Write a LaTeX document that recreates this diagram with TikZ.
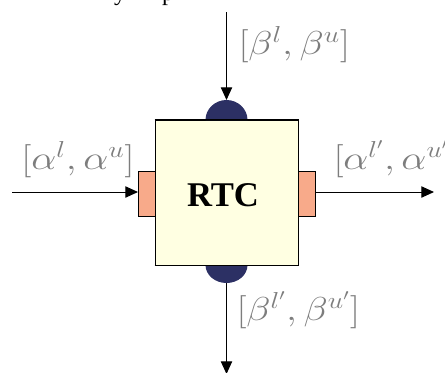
\documentclass[tikz,border=0pt]{standalone}
\usepackage{fontspec}
\usetikzlibrary{arrows.meta}
\newfontfamily\rtcfont{Liberation Serif}

\definecolor{boxfill}{RGB}{255,255,226}
\definecolor{portfill}{RGB}{248,170,138}
\definecolor{capfill}{RGB}{44,48,100}
\definecolor{labelgray}{RGB}{125,125,125}

\newcommand{\widelabel}[1]{\scalebox{1.2}[1]{#1}}

\tikzset{every picture/.style={line width=0.75pt}}

\begin{document}
\begin{tikzpicture}[
            x=0.75pt,
            y=0.75pt,
            yscale=-1,
            xscale=1,
            every node/.style={text=black},
            line width=0.75pt,
            flow/.style={-{Triangle[length=9.5pt,width=8.5pt]}},
            port/.style={draw,fill=portfill,minimum width=12.75pt,minimum height=33.75pt,inner sep=0pt},
            bound/.style={text=labelgray,inner sep=0.75pt,font=\fontsize{23}{27}\selectfont}
        ]
            \useasboundingbox (0,0) rectangle (445,372);

            % cut-off words of the page above
            \node (ycut) [anchor=base,inner sep=0pt,font=\rtcfont\fontsize{18}{20}\selectfont] at (120,0) {y};
            \node (pcut) [anchor=base,inner sep=0pt,font=\rtcfont\fontsize{18}{20}\selectfont] at (168,0) {p};

            % the component
            \node (rtc) [draw,fill=boxfill,minimum width=107.25pt,minimum height=108.75pt,inner sep=0pt] at (226.5,192.5) {};
            \node (rtctext) [font=\rtcfont\bfseries\fontsize{26}{30}\selectfont] at (223,195) {RTC};
            \node (inport) [port] at (147,193.5) {};
            \node (outport) [port] at (307,193.5) {};

            % service caps
            \fill [capfill] (205.5,120) arc [start angle=180,end angle=360,x radius=21,y radius=20] -- cycle;
            \fill [capfill] (205.5,265) arc [start angle=180,end angle=0,x radius=21,y radius=18] -- cycle;
            \draw (rtc.north west) -- (rtc.north east);
            \draw (rtc.south west) -- (rtc.south east);

            \coordinate (betain) at (226.5,12);
            \coordinate (betatop) at (226.5,100);
            \coordinate (betabot) at (226.5,283);
            \coordinate (betaout) at (226.5,374);
            \coordinate (alphain) at (12,192);
            \coordinate (alphaout) at (434,192);

            \draw [flow] (betain) -- (betatop);
            \draw [flow] (betabot) -- (betaout);
            \draw [flow] (alphain) -- (alphain -| inport.west);
            \draw [flow] (outport.east |- alphaout) -- (alphaout);

            \draw (237,45) node [bound,anchor=west] {\widelabel{$[\beta^l,\beta^u]$}};
            \draw (78,160) node [bound] {\widelabel{$[\alpha^l,\alpha^u]$}};
            \draw (332,159) node [bound,anchor=west] {\widelabel{$[\alpha^{l'},\alpha^{u'}]$}};
            \draw (235,310) node [bound,anchor=west] {\widelabel{$[\beta^{l'},\beta^{u'}]$}};
        \end{tikzpicture}
\end{document}
